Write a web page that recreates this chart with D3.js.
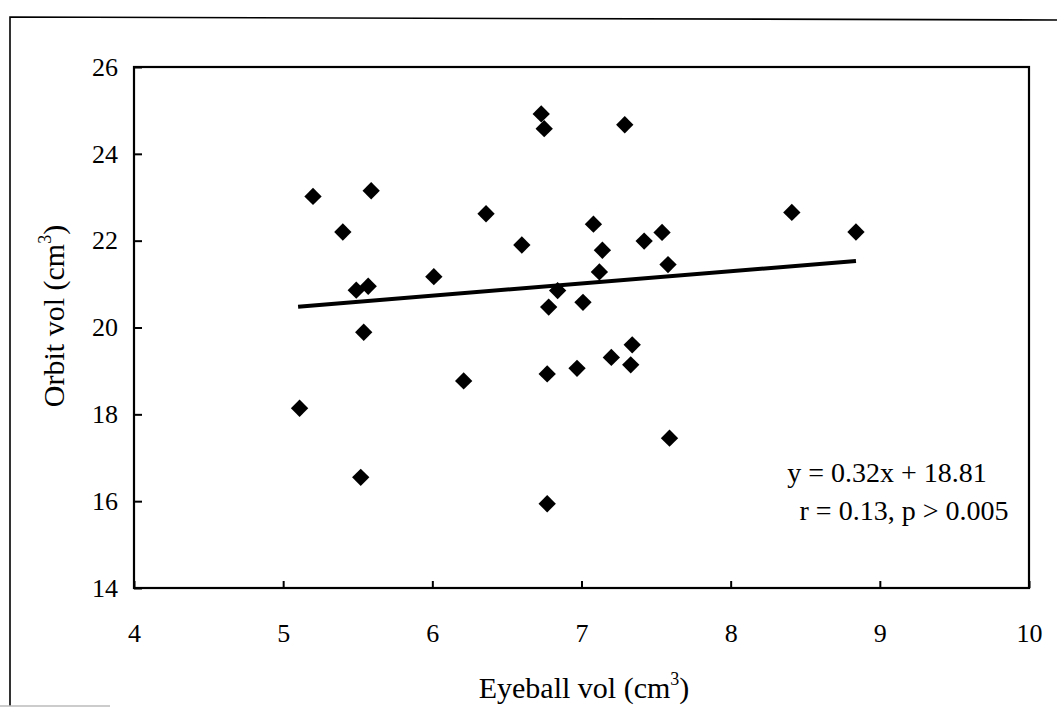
<!DOCTYPE html>
<html lang="en">
	<head>
	<meta charset="utf-8">
	<title>Eyeball vs orbit volume</title>
	<script src="https://d3js.org/d3.v7.min.js"></script>
	<style>
		body { margin: 0; background: #fff; }
		text { font-family: "Liberation Serif", "DejaVu Serif", serif; fill: #000; }
	</style>
</head>
	<body>
		<script type="text/javascript">

			// Data
			var eyeball = [6.73, 6.75, 5.20, 5.59, 5.40, 6.36, 6.60, 6.01, 5.49, 5.57,
			               7.29, 8.41, 8.84, 7.08, 7.14, 7.42, 7.54, 7.12, 7.58, 6.84,
			               6.78, 7.01, 5.11, 5.54, 5.52, 6.21, 6.77, 6.97, 7.20, 7.34,
			               7.33, 7.59, 6.77];
			var orbit = [24.92, 24.58, 23.02, 23.15, 22.20, 22.62, 21.90, 21.17, 20.86, 20.95,
			             24.67, 22.65, 22.20, 22.38, 21.78, 21.99, 22.19, 21.28, 21.45, 20.85,
			             20.47, 20.58, 18.14, 19.89, 16.55, 18.77, 18.93, 19.06, 19.31, 19.60,
			             19.14, 17.45, 15.94];
			var trendX = [5.10, 8.84];
			var trendY = [20.48, 21.53];
			var xTicks = [4, 5, 6, 7, 8, 9, 10];
			var yTicks = [14, 16, 18, 20, 22, 24, 26];
			var notes = ["y = 0.32x + 18.81", "r = 0.13, p > 0.005"];

			//Width and height
			var w = 1057;
			var h = 717;
			// plot frame edges ("top" is taken by window.top, so prefix them)
			var pLeft = 134, pRight = 1029, pTop = 67, pBottom = 588;

			var svg = d3.select("body")
						.append("svg")
						.attr("width", w)
						.attr("height", h);

			var x = d3.scaleLinear().domain([4, 10]).range([pLeft, pRight]);
			var y = d3.scaleLinear().domain([14, 26]).range([pBottom, pTop]);

			// outer border of the figure (scan only shows left / top)
			svg.append("path")
			   .attr("d", "M10,706 L10,17 L1057,20")
			   .attr("fill", "none")
			   .attr("stroke", "#000")
			   .attr("stroke-width", 1.6);
			svg.append("line")
			   .attr("x1", 0).attr("x2", 110)
			   .attr("y1", 706).attr("y2", 706)
			   .attr("stroke", "#bbb")
			   .attr("stroke-width", 1.5);

			// plot frame
			svg.append("rect")
			   .attr("x", pLeft)
			   .attr("y", pTop)
			   .attr("width", pRight - pLeft)
			   .attr("height", pBottom - pTop)
			   .attr("fill", "none")
			   .attr("stroke", "#000")
			   .attr("stroke-width", 2.2);

			// axes with inward ticks
			var xAxis = svg.append("g")
			   .attr("transform", "translate(0," + pBottom + ")")
			   .call(d3.axisBottom(x).tickValues(xTicks).tickFormat(d3.format("d"))
			           .tickSizeInner(-7).tickSizeOuter(0).tickPadding(36));
			var yAxis = svg.append("g")
			   .attr("transform", "translate(" + pLeft + ",0)")
			   .call(d3.axisLeft(y).tickValues(yTicks).tickFormat(d3.format("d"))
			           .tickSizeInner(-8).tickSizeOuter(0).tickPadding(16));

			[xAxis, yAxis].forEach(function(g) {
				g.select(".domain").remove();
				g.selectAll(".tick line").attr("stroke", "#000").attr("stroke-width", 2);
				g.selectAll(".tick text")
				 .attr("font-family", "Liberation Serif")
				 .attr("font-size", "26px")
				 .attr("fill", "#000");
			});

			// trend line
			svg.append("line")
			   .attr("x1", x(trendX[0]))
			   .attr("y1", y(trendY[0]))
			   .attr("x2", x(trendX[1]))
			   .attr("y2", y(trendY[1]))
			   .attr("stroke", "#000")
			   .attr("stroke-width", 4);

			// diamonds
			var diamond = d3.symbol().type(d3.symbolSquare).size(150);
			svg.selectAll("path.pt")
			   .data(eyeball)
			   .enter()
			   .append("path")
			   .attr("class", "pt")
			   .attr("d", diamond)
			   .attr("transform", function(d, i) {
			   		return "translate(" + x(d) + "," + y(orbit[i]) + ") rotate(45)";
			   })
			   .attr("fill", "#000");

			// regression note
			svg.selectAll("text.note")
			   .data(notes)
			   .enter()
			   .append("text")
			   .attr("class", "note")
			   .attr("text-anchor", "middle")
			   .attr("x", function(d, i) { return i === 0 ? 887 : 904; })
			   .attr("y", function(d, i) { return 482 + i * 38; })
			   .attr("font-size", "28px")
			   .text(function(d) { return d; });

			// axis titles
			var xt = svg.append("text")
			   .attr("text-anchor", "middle")
			   .attr("x", 584)
			   .attr("y", 698)
			   .attr("font-size", "30px");
			xt.append("tspan").text("Eyeball vol (cm");
			xt.append("tspan").attr("font-size", "18px").attr("dy", -13).text("3");
			xt.append("tspan").attr("dy", 13).text(")");

			var yt = svg.append("text")
			   .attr("text-anchor", "middle")
			   .attr("transform", "translate(64,316) rotate(-90)")
			   .attr("font-size", "30px");
			yt.append("tspan").text("Orbit vol (cm");
			yt.append("tspan").attr("font-size", "18px").attr("dy", -13).text("3");
			yt.append("tspan").attr("dy", 13).text(")");

		</script>
	</body>
</html>
